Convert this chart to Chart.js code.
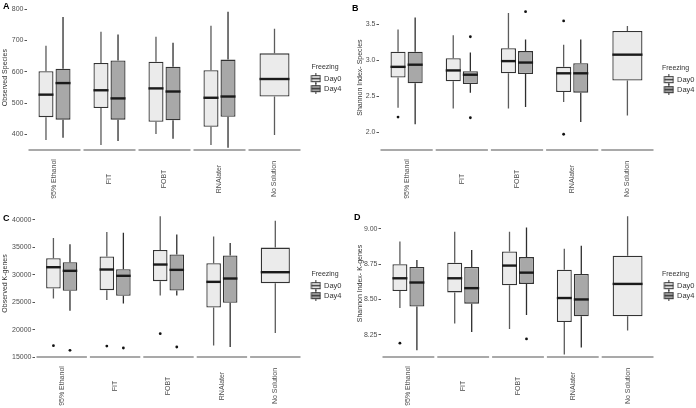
<!DOCTYPE html>
<html>
<head>
<meta charset="utf-8">
<script src="https://cdn.jsdelivr.net/npm/chart.js@4.4.1/dist/chart.umd.min.js"></script>
<style>
  body { margin: 0; background: #fff; }
  #wrap { position: relative; width: 696px; height: 408px; font-family: "Liberation Sans", Arial, sans-serif; }
  .panel { position: absolute; width: 348px; height: 204px; }
  .tag { position: absolute; font-weight: bold; font-size: 9px; color: #000; }
</style>
</head>
<body>
<div id="wrap">
  <div class="panel" style="left:0;top:0"><canvas id="chartA" width="348" height="204"></canvas><span class="tag" style="left:3px;top:1px">A</span></div>
  <div class="panel" style="left:348px;top:0"><canvas id="chartB" width="348" height="204"></canvas><span class="tag" style="left:4px;top:3px">B</span></div>
  <div class="panel" style="left:0;top:204px"><canvas id="chartC" width="348" height="204"></canvas><span class="tag" style="left:3px;top:9px">C</span></div>
  <div class="panel" style="left:348px;top:204px"><canvas id="chartD" width="348" height="204"></canvas><span class="tag" style="left:6px;top:8px">D</span></div>
</div>
<script>
var categories = ['95% Ethanol', 'FIT', 'FOBT', 'RNAlater', 'No Solution'];
var seriesNames = ['Day0', 'Day4'];

// each entry: [lower whisker, Q1, median, Q3, upper whisker]
var speciesDay0 = [[382, 455, 527, 602, 683], [366, 484, 541, 628, 728], [401, 440, 547, 632, 712], [366, 424, 517, 605, 747], [398, 521, 577, 659, 738]];
var speciesDay4 = [[389, 447, 564, 610, 775], [379, 447, 515, 636, 719], [386, 445, 537, 616, 693], [357, 456, 521, 639, 792], null];
var speciesOut0 = [[], [], [], [], []];
var speciesOut4 = [[], [], [], [], []];
var speciesTicks = [400, 500, 600, 700, 800];

var shannonSpDay0 = [[2.34, 2.76, 2.91, 3.12, 3.43], [2.33, 2.71, 2.86, 3.03, 3.35], [2.33, 2.82, 2.99, 3.17, 3.66], [2.42, 2.56, 2.82, 2.91, 3.22], [2.23, 2.72, 3.08, 3.41, 3.48]];
var shannonSpDay4 = [[2.11, 2.68, 2.94, 3.12, 3.60], [2.55, 2.67, 2.80, 2.85, 3.11], [2.35, 2.81, 2.97, 3.13, 3.29], [2.14, 2.55, 2.82, 2.96, 3.29], null];
var shannonSpOut0 = [[2.21], [], [], [1.97, 3.55], []];
var shannonSpOut4 = [[], [2.20, 3.33], [3.68], [], []];
var shannonSpTicks = [2.0, 2.5, 3.0, 3.5];

var kgenesDay0 = [[25680, 27500, 31380, 33020, 36720], [25380, 27200, 30960, 33330, 37820], [26230, 28840, 31870, 34540, 40670], [17120, 24040, 28710, 32110, 36970], [19370, 28470, 30470, 34960, 39880]];
var kgenesDay4 = [[23430, 27080, 30720, 32290, 35570], [24770, 26170, 29810, 31020, 37690], [26230, 27140, 30900, 33690, 37330], [16820, 24890, 29320, 33510, 35810], null];
var kgenesOut0 = [[17060], [17000], [19250], [], []];
var kgenesOut4 = [[16210], [16640], [16820], [], []];
var kgenesTicks = [15000, 20000, 25000, 30000, 35000, 40000];

var shannonKgDay0 = [[8.44, 8.56, 8.65, 8.75, 8.91], [8.33, 8.55, 8.65, 8.76, 8.98], [8.29, 8.60, 8.74, 8.84, 8.98], [8.11, 8.34, 8.51, 8.71, 8.86], [8.28, 8.38, 8.61, 8.81, 9.09]];
var shannonKgDay4 = [[8.14, 8.45, 8.62, 8.73, 8.78], [8.27, 8.47, 8.58, 8.73, 8.85], [8.39, 8.61, 8.69, 8.80, 9.01], [8.16, 8.38, 8.50, 8.68, 8.88], null];
var shannonKgOut0 = [[8.19], [], [], [], []];
var shannonKgOut4 = [[], [], [8.22], [], []];
var shannonKgTicks = [8.25, 8.50, 8.75, 9.00];

var FONT = "'Liberation Sans', Arial, sans-serif";
var FILL0 = '#ebebeb', FILL4 = '#a8a8a8';

// little boxplot key like the ggplot legend (drawn a bit right of centre)
function keyGlyph(fill) {
  var c = document.createElement('canvas');
  c.width = 18; c.height = 11;
  var g = c.getContext('2d');
  g.strokeStyle = '#333';
  g.lineWidth = 1;
  g.beginPath(); g.moveTo(12.5, 0); g.lineTo(12.5, 11); g.stroke();
  g.fillStyle = fill;
  g.fillRect(8, 2.5, 9, 6);
  g.strokeRect(8, 2.5, 9, 6);
  g.lineWidth = 1.5;
  g.beginPath(); g.moveTo(8, 5.5); g.lineTo(17, 5.5); g.stroke();
  return c;
}

// whiskers behind the boxes, medians / outliers / facet base lines on top
var boxParts = {
  id: 'boxParts',
  beforeDatasetsDraw: function(chart) {
    var ctx = chart.ctx, y = chart.scales.y;
    ctx.save();
    chart.data.datasets.forEach(function(ds, i) {
      var meta = chart.getDatasetMeta(i);
      ds.stats.forEach(function(s, j) {
        if (!s) return;
        var bar = meta.data[j];
        ctx.strokeStyle = ds.whiskerColor;
        ctx.lineWidth = 1.3;
        ctx.beginPath();
        ctx.moveTo(bar.x, y.getPixelForValue(s[0]));
        ctx.lineTo(bar.x, y.getPixelForValue(s[1]));
        ctx.moveTo(bar.x, y.getPixelForValue(s[3]));
        ctx.lineTo(bar.x, y.getPixelForValue(s[4]));
        ctx.stroke();
      });
    });
    ctx.restore();
  },
  afterDatasetsDraw: function(chart) {
    var ctx = chart.ctx, x = chart.scales.x, y = chart.scales.y;
    ctx.save();
    chart.data.datasets.forEach(function(ds, i) {
      var meta = chart.getDatasetMeta(i);
      ds.stats.forEach(function(s, j) {
        if (!s) return;
        var bar = meta.data[j];
        var my = y.getPixelForValue(s[2]);
        ctx.strokeStyle = '#1a1a1a';
        ctx.lineWidth = 2.4;
        ctx.beginPath();
        ctx.moveTo(bar.x - bar.width / 2, my);
        ctx.lineTo(bar.x + bar.width / 2, my);
        ctx.stroke();
        ctx.fillStyle = '#111';
        ds.outliers[j].forEach(function(v) {
          ctx.beginPath();
          ctx.arc(bar.x, y.getPixelForValue(v), 1.4, 0, Math.PI * 2);
          ctx.fill();
        });
      });
    });
    // facet-style base line and centred vertical label under each category
    var step = x.getPixelForValue(1) - x.getPixelForValue(0);
    var base = chart.chartArea.bottom;
    ctx.strokeStyle = '#8c8c8c';
    ctx.lineWidth = 1.4;
    ctx.fillStyle = '#4d4d4d';
    ctx.font = '7px ' + FONT;
    ctx.textAlign = 'center';
    ctx.textBaseline = 'middle';
    categories.forEach(function(c, k) {
      var cx = x.getPixelForValue(k);
      ctx.beginPath();
      ctx.moveTo(cx - step / 2 + 1.5, base);
      ctx.lineTo(cx + step / 2 - 1.5, base);
      ctx.stroke();
      ctx.save();
      ctx.translate(cx, base + 29);
      ctx.rotate(-Math.PI / 2);
      ctx.fillText(c, 0, 0);
      ctx.restore();
    });
    ctx.restore();
  }
};

function boxChart(id, p) {
  var ctx = document.getElementById(id);
  return new Chart(ctx, {
    type: 'bar',
    plugins: [boxParts],
    data: {
      labels: categories,
      datasets: [{
        label: seriesNames[0],
        data: p.day0.map(function(s) { return s ? [s[1], s[3]] : null; }),
        stats: p.day0,
        outliers: p.out0,
        glyph: keyGlyph(FILL0),
        backgroundColor: FILL0,
        borderColor: '#333333',
        whiskerColor: '#5c5c5c',
        borderWidth: 1.3,
        borderSkipped: false,
        skipNull: true
      }, {
        label: seriesNames[1],
        data: p.day4.map(function(s) { return s ? [s[1], s[3]] : null; }),
        stats: p.day4,
        outliers: p.out4,
        glyph: keyGlyph(FILL4),
        backgroundColor: FILL4,
        borderColor: '#333333',
        whiskerColor: '#2e2e2e',
        borderWidth: 1.3,
        borderSkipped: false,
        skipNull: true
      }]
    },
    options: {
      responsive: false,
      animation: false,
      categoryPercentage: 0.62,
      barPercentage: 0.88,
      layout: { padding: { top: p.top, right: 0, left: 0, bottom: 0 } },
      plugins: {
        tooltip: { enabled: false },
        title: { display: false },
        legend: {
          position: 'right',
          align: 'start',
          maxWidth: p.legendWidth,
          title: { display: true, text: 'Freezing', color: '#333', font: { family: FONT, size: 7 }, padding: { top: p.keyTop, bottom: 0 } },
          labels: {
            usePointStyle: true,
            pointStyleWidth: 15.75,
            boxHeight: 7,
            padding: 2.5,
            color: '#333',
            font: { family: FONT, size: 7.5 },
            generateLabels: function(chart) {
              var items = Chart.defaults.plugins.legend.labels.generateLabels(chart);
              items.forEach(function(it) { it.pointStyle = chart.data.datasets[it.datasetIndex].glyph; });
              return items;
            }
          }
        }
      },
      scales: {
        x: {
          grid: { display: false },
          border: { display: false },
          ticks: { display: false },
          afterFit: function(s) { s.height = p.xHeight; }
        },
        y: {
          min: p.min,
          max: p.max,
          border: { display: false },
          grid: { drawOnChartArea: false, drawTicks: true, tickLength: 2.5, color: '#555' },
          ticks: {
            padding: 1,
            color: '#4d4d4d',
            font: { family: FONT, size: 7 },
            callback: function(v) { return v.toFixed(p.decimals); }
          },
          afterBuildTicks: function(s) { s.ticks = p.ticks.map(function(v) { return { value: v }; }); },
          title: { display: true, text: p.title, color: '#333', font: { family: FONT, size: 7 }, padding: { top: p.titlePad, bottom: 0 } },
          afterFit: function(s) { s.width = p.yWidth; }
        }
      }
    }
  });
}

boxChart('chartA', { day0: speciesDay0, day4: speciesDay4, out0: speciesOut0, out4: speciesOut4, ticks: speciesTicks,
  min: 350, max: 813, decimals: 0, title: 'Observed Species', top: 3, xHeight: 54, yWidth: 27, titlePad: 1, legendWidth: 46, keyTop: 61 });
boxChart('chartB', { day0: shannonSpDay0, day4: shannonSpDay4, out0: shannonSpOut0, out4: shannonSpOut4, ticks: shannonSpTicks,
  min: 1.75, max: 3.77, decimals: 1, title: 'Shannon Index- Species', top: 3, xHeight: 54, yWidth: 31, titlePad: 8, legendWidth: 41, keyTop: 62 });
boxChart('chartC', { day0: kgenesDay0, day4: kgenesDay4, out0: kgenesOut0, out4: kgenesOut4, ticks: kgenesTicks,
  min: 15000, max: 41820, decimals: 0, title: 'Observed K-genes', top: 6, xHeight: 51, yWidth: 35, titlePad: 1, legendWidth: 46, keyTop: 61 });
boxChart('chartD', { day0: shannonKgDay0, day4: shannonKgDay4, out0: shannonKgOut0, out4: shannonKgOut4, ticks: shannonKgTicks,
  min: 8.092, max: 9.134, decimals: 2, title: 'Shannon Index- K-genes', top: 6, xHeight: 51, yWidth: 33, titlePad: 8, legendWidth: 41, keyTop: 61 });
</script>
</body>
</html>
